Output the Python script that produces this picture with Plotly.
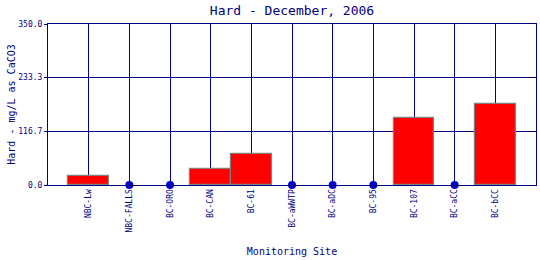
import plotly.graph_objects as go

sites = ["NBC-Lw", "NBC-FALLS", "BC-ORO", "BC-CAN", "BC-61", "BC-aWWTP",
         "BC-aDC", "BC-95", "BC-107", "BC-aCC", "BC-bCC"]
hardness = [18.7, None, None, 34.8, 67.4, None, None, None, 145.6, None, 176.0]
y_ticks = [0.0, 116.7, 233.3, 350.0]
y_tick_text = ["0.0", "116.7", "233.3", "350.0"]

NAVY = "#000080"
FONT = "DejaVu Sans Mono"

bar_x = [s for s, v in zip(sites, hardness) if v is not None]
bar_y = [v for v in hardness if v is not None]
miss_x = [s for s, v in zip(sites, hardness) if v is None]
miss_y = [0 for _ in miss_x]

fig = go.Figure()
fig.add_trace(go.Bar(
    x=bar_x, y=bar_y, width=1.0,
    marker=dict(color="#FF0000", line=dict(color="#808080", width=1.2)),
    showlegend=False,
))
fig.add_trace(go.Scatter(
    x=miss_x, y=miss_y, mode="markers",
    marker=dict(color="#0000CC", size=8),
    cliponaxis=False, showlegend=False,
))

fig.update_layout(
    width=540, height=260,
    margin=dict(l=48, r=4, t=24, b=75),
    paper_bgcolor="white", plot_bgcolor="white",
    title=dict(text="Hard - December, 2006", x=(48 + 536) / 2 / 540, xanchor="center",
               y=1 - 10 / 260, yanchor="middle",
               font=dict(family=FONT, size=13, color=NAVY)),
    font=dict(family=FONT, color=NAVY),
    bargap=0,
)
fig.update_xaxes(
    type="category", categoryorder="array", categoryarray=sites,
    tickvals=sites, ticktext=sites,
    range=[-1, len(sites)],
    showgrid=True, gridcolor=NAVY, gridwidth=1,
    showline=True, linecolor=NAVY, linewidth=1, mirror=True,
    tickangle=-90, tickfont=dict(family=FONT, size=8, color=NAVY),
    ticks="", ticklen=0, automargin=False,
    title=dict(text="Monitoring Site", font=dict(family=FONT, size=10, color=NAVY), standoff=16),
    zeroline=False,
)
fig.update_yaxes(
    range=[0, 350], tickvals=y_ticks, ticktext=y_tick_text,
    showgrid=True, gridcolor=NAVY, gridwidth=1,
    showline=True, linecolor=NAVY, linewidth=1, mirror=True,
    ticks="outside", ticklen=3, tickcolor=NAVY,
    tickfont=dict(family=FONT, size=8, color=NAVY), automargin=False,
    title=dict(text="Hard - mg/L as CaCO3", font=dict(family=FONT, size=10, color=NAVY), standoff=0),
    zeroline=False,
)

fig.write_html("out.html")
